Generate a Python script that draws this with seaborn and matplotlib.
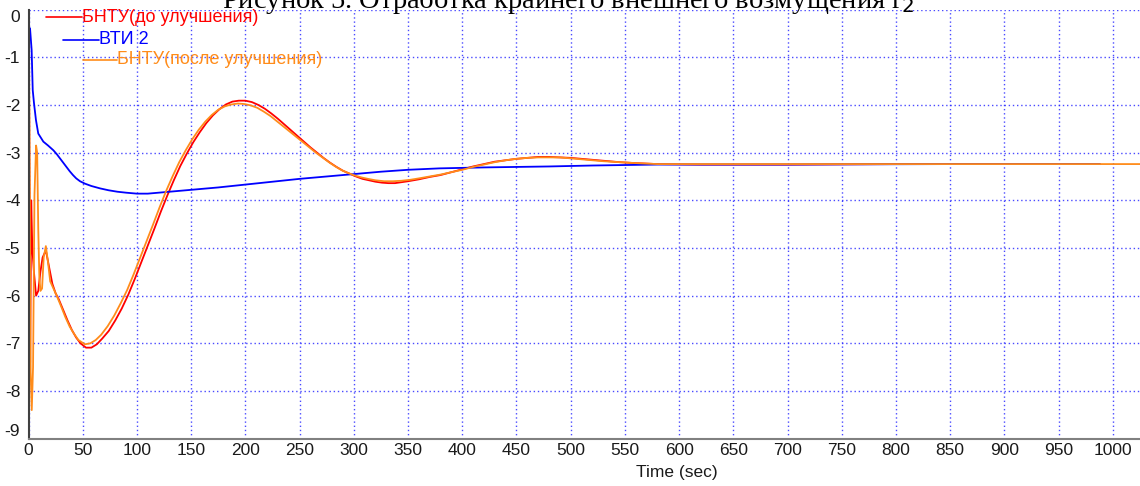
import numpy as np
import pandas as pd
import matplotlib
matplotlib.use("Agg")
import matplotlib.pyplot as plt
from matplotlib.lines import Line2D
import seaborn as sns

# ---------------- data ----------------
series_names = ["БНТУ(до улучшения)", "ВТИ 2", "БНТУ(после улучшения)"]
series_colors = ["#ff0000", "#0000ff", "#ff8c1a"]

t_red = [0.5, 1.5, 2.5, 3.5, 5, 7, 9, 11, 13, 16, 19, 22, 25, 28, 32, 36, 40, 44, 48,
         53, 58, 63, 68, 74, 80, 86, 92, 98, 104, 110, 116, 122, 128, 134, 140, 146,
         152, 158, 164, 170, 176, 182, 188, 194, 200, 206, 212, 218, 224, 230, 236,
         242, 248, 254, 260, 266, 272, 278, 284, 290, 296, 302, 308, 314, 320, 326,
         332, 338, 344, 350, 360, 370, 380, 390, 400, 410, 420, 430, 440, 450, 460,
         470, 480, 490, 500, 515, 530, 545, 560, 580, 620, 700, 800, 900, 988]
v_red = [-1.5, -7.4, -4.0, -5.0, -5.5, -6.0, -5.9, -5.5, -5.2, -5.05, -5.4, -5.75,
         -5.95, -6.08, -6.3, -6.52, -6.72, -6.88, -7.0, -7.09, -7.09, -7.02, -6.9,
         -6.74, -6.52, -6.27, -5.98, -5.65, -5.3, -4.95, -4.6, -4.24, -3.9, -3.58,
         -3.28, -3.02, -2.78, -2.57, -2.38, -2.22, -2.09, -1.99, -1.93, -1.91, -1.91,
         -1.94, -2.0, -2.08, -2.18, -2.29, -2.41, -2.53, -2.65, -2.77, -2.89, -3.0,
         -3.11, -3.21, -3.3, -3.38, -3.44, -3.5, -3.55, -3.58, -3.61, -3.63, -3.64,
         -3.64, -3.62, -3.6, -3.56, -3.51, -3.47, -3.41, -3.35, -3.29, -3.24, -3.19,
         -3.16, -3.13, -3.11, -3.09, -3.09, -3.1, -3.11, -3.14, -3.17, -3.2, -3.22,
         -3.24, -3.25, -3.25, -3.24, -3.24, -3.24]

t_blue = [1.4, 2.9, 3.9, 5.1, 6.9, 9, 13.7, 18, 22.9, 26, 29, 32, 35, 38, 41, 44, 47.5,
          52, 58, 66, 74, 82, 90, 100, 110, 125, 150, 175, 200, 225, 250, 275, 300,
          325, 350, 379, 420, 480, 520, 580, 700, 850, 988]
v_blue = [-0.39, -0.85, -1.69, -1.97, -2.32, -2.6, -2.77, -2.85, -2.95, -3.03, -3.12,
          -3.21, -3.3, -3.39, -3.47, -3.54, -3.6, -3.65, -3.7, -3.75, -3.79, -3.82,
          -3.84, -3.86, -3.86, -3.83, -3.78, -3.73, -3.67, -3.61, -3.55, -3.5, -3.45,
          -3.4, -3.36, -3.33, -3.31, -3.29, -3.27, -3.25, -3.25, -3.24, -3.24]

t_orange = [0, 0.3, 1.0, 2.0, 3.0, 4.2, 5.5, 7.0, 8.0, 9.0, 10, 11, 12.5, 14, 16, 18,
            20, 23, 26, 30, 34, 38, 42, 46, 52, 57, 62, 67, 73, 79, 85, 91, 97, 103,
            109, 115, 121, 127, 133, 139, 145, 151, 157, 163, 169, 175, 181, 187, 193,
            199, 205, 211, 217, 223, 229, 235, 241, 247, 253, 259, 265, 271, 277, 283,
            289, 295, 301, 307, 313, 320, 328, 336, 344, 352, 360, 370, 380, 390, 400,
            410, 420, 430, 440, 450, 460, 470, 480, 490, 500, 515, 530, 545, 560, 580,
            620, 700, 800, 900, 1025]
v_orange = [-4.3, 0.05, -3.0, -7.6, -8.4, -7.5, -3.9, -2.85, -3.0, -4.6, -5.6, -5.9,
            -5.85, -5.2, -4.96, -5.3, -5.7, -5.85, -6.0, -6.22, -6.45, -6.65, -6.8,
            -6.93, -7.02, -7.0, -6.93, -6.82, -6.64, -6.42, -6.16, -5.88, -5.55, -5.2,
            -4.85, -4.5, -4.14, -3.8, -3.49, -3.2, -2.95, -2.72, -2.52, -2.35, -2.21,
            -2.1, -2.03, -1.99, -1.97, -1.98, -2.01, -2.06, -2.14, -2.23, -2.34, -2.45,
            -2.56, -2.67, -2.78, -2.89, -3.0, -3.1, -3.2, -3.29, -3.37, -3.43, -3.48,
            -3.52, -3.55, -3.58, -3.6, -3.6, -3.59, -3.57, -3.54, -3.5, -3.46, -3.41,
            -3.36, -3.3, -3.25, -3.2, -3.16, -3.13, -3.11, -3.1, -3.1, -3.1, -3.12,
            -3.15, -3.18, -3.2, -3.22, -3.24, -3.24, -3.24, -3.24, -3.24, -3.24]

x_ticks = list(range(0, 1001, 50))
y_ticks = list(range(-9, 1))
title_text = "Рисунок 5. Отработка крайнего внешнего возмущения r$_2$"
x_label = "Time (sec)"

# ---------------- figure ----------------
sns.set_theme(style="white")
plt.rcParams["font.family"] = ["Liberation Sans", "DejaVu Sans"]

fig = plt.figure(figsize=(11.4, 4.86), dpi=100)
ax = fig.add_axes([28.5 / 1140, 47.3 / 486, 1 - 28.5 / 1140, (438.7 - 9.6) / 486])

frames = []
for name, t, v in zip(series_names, [t_red, t_blue, t_orange], [v_red, v_blue, v_orange]):
    frames.append(pd.DataFrame({"t": t, "v": v, "series": name}))
df = pd.concat(frames, ignore_index=True)

for name, col in zip(series_names, series_colors):
    sub = df[df["series"] == name]
    sns.lineplot(data=sub, x="t", y="v", color=col, lw=1.3, sort=False,
                 estimator=None, ax=ax, legend=False)

ax.set_xlim(0, 1025)
ax.set_ylim(-9, 0)
ax.set_xticks(x_ticks)
ax.set_yticks(y_ticks)
ax.set_xticklabels([str(x) for x in x_ticks])
ax.set_yticklabels([str(y) for y in y_ticks])
ax.tick_params(axis="both", length=0, labelsize=12.5, colors="#1a1a1a")
ax.tick_params(axis="y", pad=6)
ax.tick_params(axis="x", pad=3)
ylabels = ax.get_yticklabels()
ylabels[-1].set_va("top")
ylabels[0].set_va("bottom")

ax.grid(True, color="#2a2aff", linestyle=(0, (1, 2)), linewidth=1.0, alpha=0.85)
ax.set_axisbelow(True)
for s in ["top", "right"]:
    ax.spines[s].set_visible(False)
ax.spines["left"].set_color("#404040")
ax.spines["left"].set_linewidth(1.5)
ax.spines["bottom"].set_color("#808080")
ax.spines["bottom"].set_linewidth(1.5)

ax.set_xlabel(x_label, fontsize=12.5, color="#1a1a1a")
ax.xaxis.set_label_coords((677 - 28.5) / 1111.5, -0.062)
ax.set_ylabel("")

# legend, staggered as in the reference
W, H = 1140, 486
leg = [(46, 82, 17), (63, 99, 40), (83, 117, 60)]
for (x0, x1, y), name, col in zip(leg, series_names, series_colors):
    fig.add_artist(Line2D([x0 / W, x1 / W], [1 - y / H, 1 - y / H], color=col, lw=1.2))
    fig.text(x1 / W, 1 - y / H, name, color=col, fontsize=13, va="center", ha="left")

fig.text(568 / W, 1 - 8 / H, title_text, family="Liberation Serif", fontsize=20.5,
         ha="center", va="baseline", color="black")

fig.savefig("out.png", dpi=100)
